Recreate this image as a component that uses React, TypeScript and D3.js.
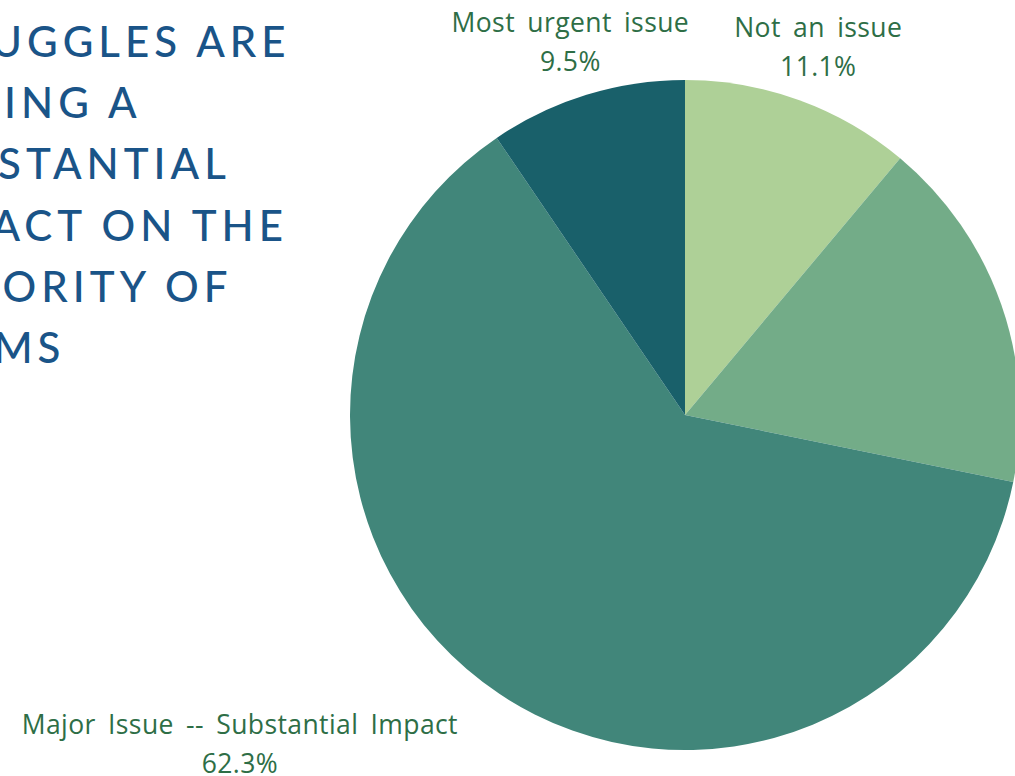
import React from "react";
import * as d3 from "d3";

const categories = ["Not an issue", "Minor Issue -- Some Impact", "Major Issue -- Substantial Impact", "Most urgent issue"];
const values = [11.1, 17.1, 62.3, 9.5];
const colors = ["#aed097", "#73ac88", "#41867a", "#19606a"];
const titleLines = ["STRUGGLES ARE", "HAVING A", "SUBSTANTIAL", "IMPACT ON THE", "MAJORITY OF", "FARMS"];
// label offsets relative to arc centroid at label radius
const labelOffsets: [number, number][] = [[0, 5], [270, 0], [-229, 10], [0, 6]];

export default function App() {
  const W = 1015, H = 776;
  const cx = 685, cy = 415, r = 335;
  const data = categories.map((c, i) => ({ name: c, value: values[i], color: colors[i] }));
  const pie = d3.pie<any>().value((d: any) => d.value).sort(null);
  const arcs = pie(data);
  const arc = d3.arc<any>().innerRadius(0).outerRadius(r);
  const labelArc = d3.arc<any>().innerRadius(390).outerRadius(390);
  const titleFont = "Lato, 'Open Sans', sans-serif";
  const font = "'Open Sans', Lato, sans-serif";
  return (
    <svg width={W} height={H} style={{ position: "absolute", left: 0, top: 0 }}>
      <rect width={W} height={H} fill="#ffffff" />
      <g fontFamily={titleFont} fill="#1a5488" fontSize={42} letterSpacing={5} fontWeight={500}>
        {titleLines.map((t, i) => (
          <text key={i} x={-98} y={57 + i * 61.2}>{t}</text>
        ))}
      </g>
      <g transform={`translate(${cx},${cy})`}>
        {arcs.map((a, i) => (
          <path key={i} d={arc(a) as string} fill={a.data.color} />
        ))}
        {arcs.map((a, i) => {
          const [x, y] = labelArc.centroid(a);
          const [ox, oy] = labelOffsets[i];
          const lx = x + ox, ly = y + oy;
          return (
            <g key={"l" + i} fontFamily={font} fill="#2e6e46" fontSize={26.5} letterSpacing={0.4} wordSpacing={5} textAnchor="middle">
              <text x={lx} y={ly - 16}>{a.data.name}</text>
              <text x={lx} y={ly + 23}>{a.data.value.toFixed(1)}%</text>
            </g>
          );
        })}
      </g>
    </svg>
  );
}
